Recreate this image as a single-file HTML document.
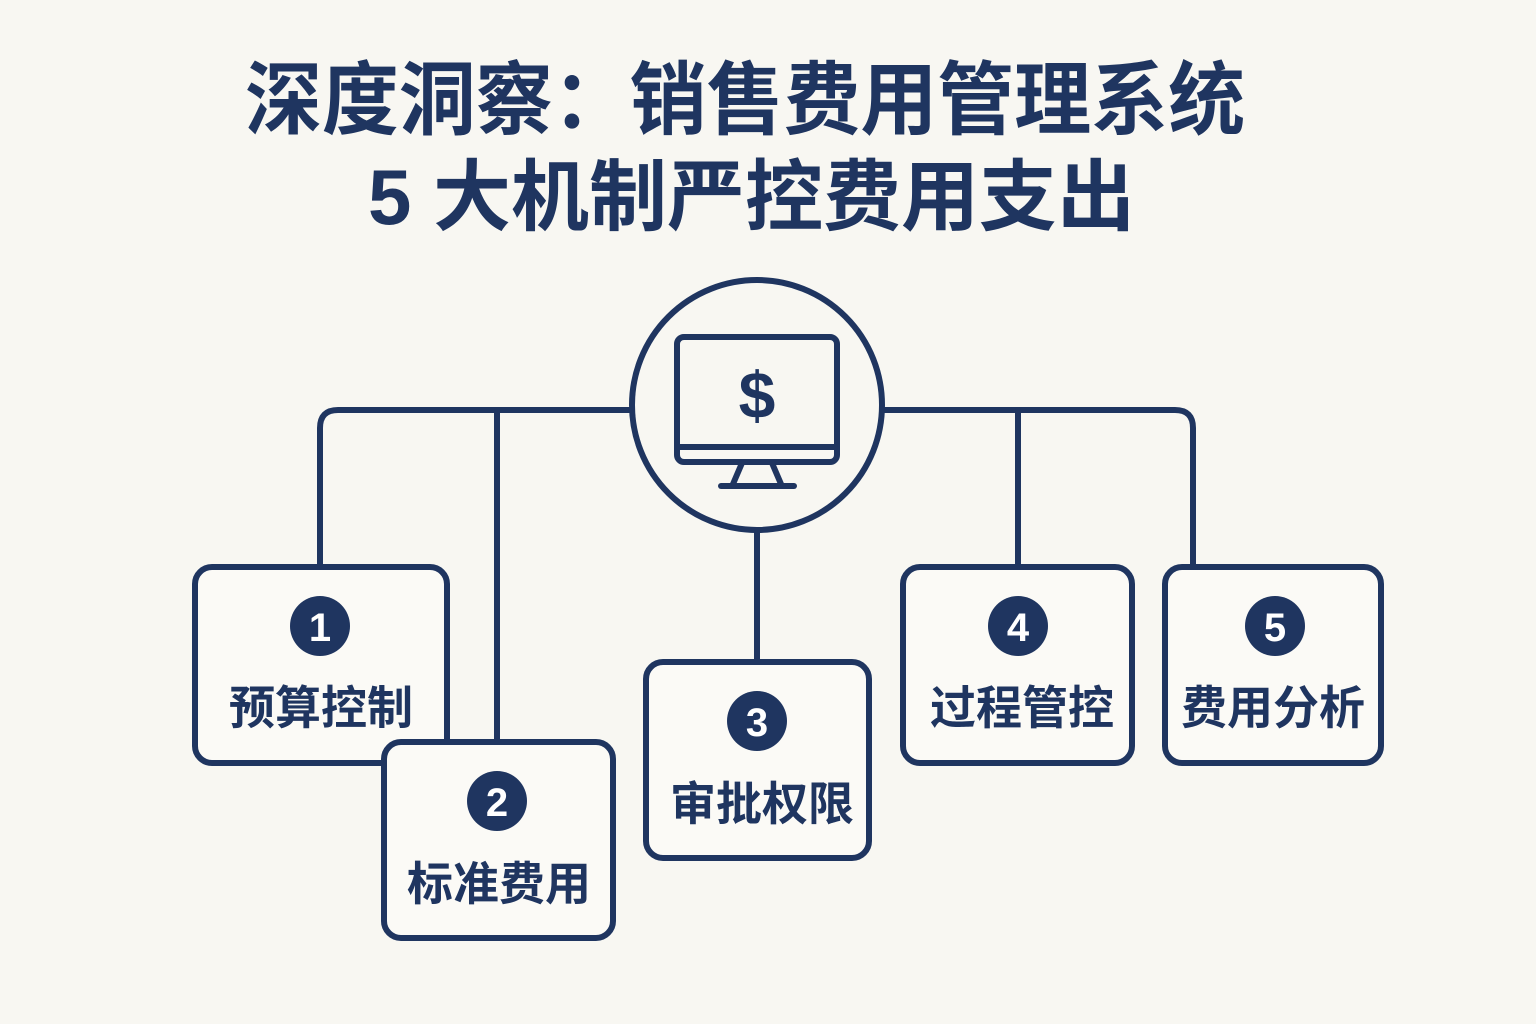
<!DOCTYPE html>
<html><head><meta charset="utf-8"><style>
html,body{margin:0;padding:0;background:#f8f7f2;}
svg{display:block}
text{font-family:"Liberation Sans","Noto Sans CJK SC",sans-serif;font-weight:bold;}
</style></head><body>
<svg width="1536" height="1024" viewBox="0 0 1536 1024" xmlns="http://www.w3.org/2000/svg">
<rect width="1536" height="1024" fill="#f8f7f2"/>
<g fill="#1f3560">
<text x="245" y="128" font-size="80" textLength="1000" lengthAdjust="spacingAndGlyphs">深度洞察：销售费用管理系统</text>
<text x="368" y="224" font-size="78" textLength="767" lengthAdjust="spacingAndGlyphs">5 大机制严控费用支出</text>
</g>
<g fill="none" stroke="#1f3560" stroke-width="6" stroke-linejoin="round" stroke-linecap="round">
<path d="M320 567 V428 Q320 410 338 410 H1175 Q1193 410 1193 428 V567"/>
<path d="M497 410 V742"/>
<path d="M1018 410 V567"/>
<path d="M757 530 V662"/>
<circle cx="757" cy="405" r="125" fill="#f8f7f2"/>
<rect x="677" y="337" width="160" height="125" rx="7"/>
<line x1="679" y1="447" x2="835" y2="447"/>
<path d="M742 463 L733 484 M772 463 L781 484"/>
<line x1="721" y1="486" x2="794" y2="486"/>
</g>
<text x="757" y="418" font-size="66" fill="#1f3560" text-anchor="middle" font-weight="normal">$</text>
<g stroke="#1f3560" stroke-width="6" fill="#fbfaf6">
<rect x="195" y="567" width="252" height="196" rx="17"/>
<rect x="384" y="742" width="229" height="196" rx="17"/>
<rect x="646" y="662" width="223" height="196" rx="17"/>
<rect x="903" y="567" width="229" height="196" rx="17"/>
<rect x="1165" y="567" width="216" height="196" rx="17"/>
</g>
<g fill="#1f3560">
<circle cx="320" cy="626" r="30"/>
<circle cx="497" cy="801" r="30"/>
<circle cx="757" cy="721" r="30"/>
<circle cx="1018" cy="626" r="30"/>
<circle cx="1275" cy="626" r="30"/>
</g>
<g fill="#fff" font-size="40" text-anchor="middle" font-weight="normal">
<text x="320" y="641">1</text>
<text x="497" y="816">2</text>
<text x="757" y="736">3</text>
<text x="1018" y="641">4</text>
<text x="1275" y="641">5</text>
</g>
<g fill="#1f3560" font-size="46" text-anchor="middle">
<text x="321" y="724">预算控制</text>
<text x="499" y="900">标准费用</text>
<text x="762" y="820">审批权限</text>
<text x="1022" y="724">过程管控</text>
<text x="1273" y="724">费用分析</text>
</g>
</svg>
</body></html>
